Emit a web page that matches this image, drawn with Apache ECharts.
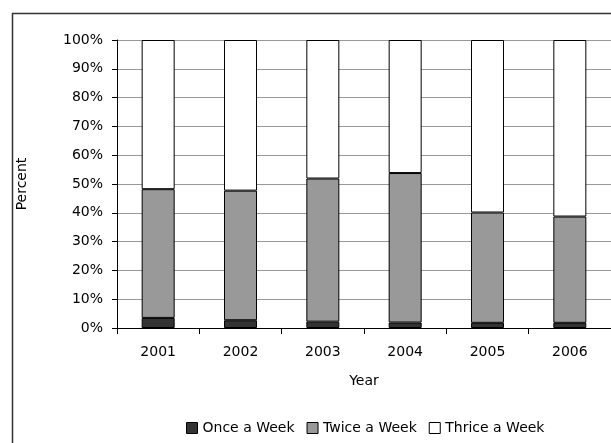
<!DOCTYPE html>
<html>
<head>
<meta charset="utf-8">
<script src="https://cdn.jsdelivr.net/npm/echarts@6/dist/echarts.min.js"></script>
<style>
html,body{margin:0;padding:0;background:#fff;}
#chart{width:611px;height:443px;}
</style>
</head>
<body>
<div id="chart"></div>
<script>
const categories = ['2001','2002','2003','2004','2005','2006'];
const onceAWeek = [3.5, 2.7, 2.2, 1.9, 1.8, 1.8];
const twiceAWeek = [44.7, 45.0, 49.7, 51.9, 38.3, 36.9];
const thriceAWeek = [51.8, 52.3, 48.1, 46.2, 59.9, 61.3];
const seriesNames = ['Once a Week', 'Twice a Week', 'Thrice a Week'];
const yTicks = {min: 0, max: 100, interval: 10};

const FONT = 'DejaVu Sans';
const FS = 14;
const chart = echarts.init(document.getElementById('chart'), null, {renderer: 'canvas'});
const barStyle = (c) => ({color: c, borderColor: '#000', borderWidth: 1});
chart.setOption({
  animation: false,
  backgroundColor: '#fff',
  textStyle: {fontFamily: FONT, color: '#000'},
  graphic: [{
    type: 'rect', silent: true, z: -1,
    shape: {x: 12.5, y: 13.5, width: 700, height: 500},
    style: {fill: 'none', stroke: '#333', lineWidth: 1.5}
  }],
  grid: {left: 117, top: 40, width: 498, height: 288, containLabel: false},
  legend: {
    left: 186, top: 421, padding: 0,
    itemWidth: 11, itemHeight: 11, itemGap: 12,
    icon: 'rect',
    itemStyle: {borderColor: '#000', borderWidth: 1},
    textStyle: {fontFamily: FONT, fontSize: FS, color: '#000'},
    data: seriesNames
  },
  xAxis: {
    type: 'category', data: categories,
    name: 'Year', nameLocation: 'middle', nameGap: 46,
    nameTextStyle: {fontFamily: FONT, fontSize: FS, color: '#000'},
    axisLine: {lineStyle: {color: '#000', width: 1}},
    axisTick: {show: true, alignWithLabel: false, length: 6, lineStyle: {color: '#000'}},
    axisLabel: {fontFamily: FONT, fontSize: FS, color: '#000', margin: 17}
  },
  yAxis: {
    type: 'value', min: yTicks.min, max: yTicks.max, interval: yTicks.interval,
    name: 'Percent', nameLocation: 'middle', nameRotate: 90, nameGap: 88,
    nameTextStyle: {fontFamily: FONT, fontSize: FS, color: '#000'},
    axisLine: {show: true, lineStyle: {color: '#000', width: 1}},
    axisTick: {show: true, length: 5, lineStyle: {color: '#000'}},
    axisLabel: {fontFamily: FONT, fontSize: FS, color: '#000', margin: 14, formatter: '{value}%'},
    splitLine: {show: true, lineStyle: {color: '#999', width: 1}}
  },
  series: [
    {name: seriesNames[0], type: 'bar', stack: 'a', barWidth: 33, data: onceAWeek, itemStyle: barStyle('#333333')},
    {name: seriesNames[1], type: 'bar', stack: 'a', barWidth: 33, data: twiceAWeek, itemStyle: barStyle('#999999')},
    {name: seriesNames[2], type: 'bar', stack: 'a', barWidth: 33, data: thriceAWeek, itemStyle: barStyle('#ffffff')}
  ]
});
</script>
</body>
</html>
